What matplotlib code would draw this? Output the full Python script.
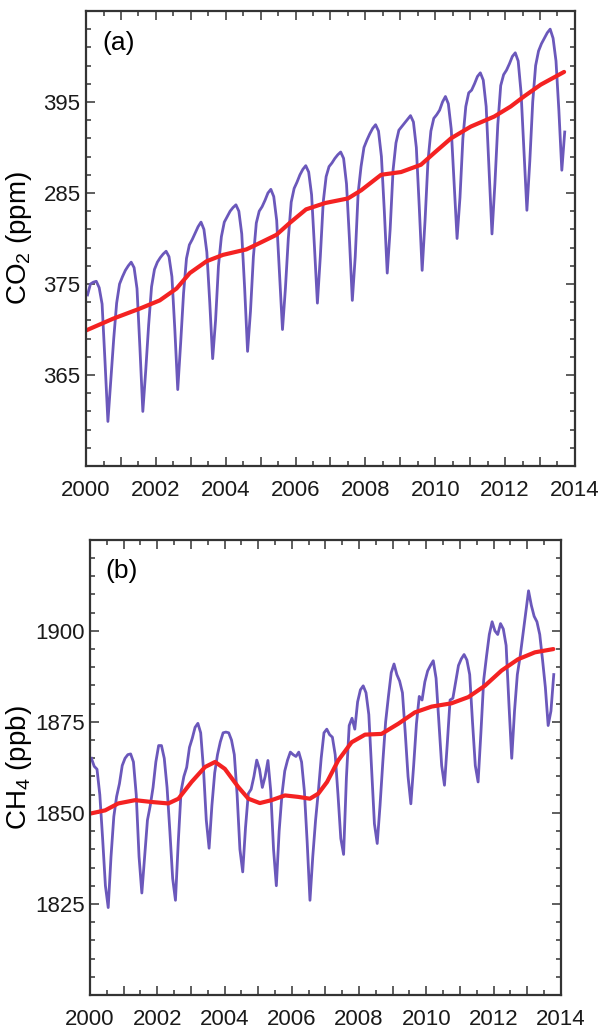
import numpy as np
import matplotlib
matplotlib.use("Agg")
import matplotlib.pyplot as plt
from matplotlib.ticker import MultipleLocator, FixedLocator, FuncFormatter

plt.rcParams['font.family'] = ['Liberation Sans', 'DejaVu Sans']
plt.rcParams['mathtext.default'] = 'regular'

# ---------- CO2 monthly values (ppm), Jan 2000 .. Sep 2013 ----------
co2_monthly = [
    373.8, 375.0, 375.2, 375.3, 374.6, 372.8, 366.5, 359.9, 364.5, 369.0, 372.9, 375.0,
    375.8, 376.5, 377.0, 377.4, 376.8, 374.5, 368.0, 361.0, 365.5, 370.5, 374.7, 376.6,
    377.4, 377.9, 378.3, 378.6, 378.0, 375.8, 370.0, 363.4, 368.5, 374.0, 377.8, 379.3,
    379.9, 380.6, 381.3, 381.8, 381.0, 378.5, 373.0, 366.8, 371.0, 377.0, 380.2, 381.8,
    382.4, 383.0, 383.4, 383.7, 383.0, 380.5, 374.5, 367.6, 372.0, 378.0, 381.7, 383.0,
    383.5, 384.2, 385.0, 385.4, 384.6, 382.0, 376.0, 370.0, 374.5, 380.0, 384.0, 385.5,
    386.2, 387.0, 387.6, 388.0, 387.3, 384.8, 379.0, 372.9, 378.0, 384.0, 386.8, 387.9,
    388.3, 388.8, 389.2, 389.5, 388.8, 386.0, 380.0, 373.2, 378.0, 385.0, 387.9, 390.0,
    390.8, 391.5, 392.1, 392.5, 391.8, 389.0, 383.0, 376.2, 381.0, 387.5, 390.5, 391.9,
    392.3, 392.7, 393.1, 393.5, 392.8, 390.0, 383.5, 376.5, 382.0, 388.5, 391.8, 393.2,
    393.6, 394.1, 395.0, 395.6, 394.8, 392.0, 386.0, 380.0, 384.5, 391.0, 394.5, 396.0,
    396.3, 397.0, 397.8, 398.2, 397.4, 394.5, 387.5, 380.5, 386.0, 392.5, 396.8, 398.0,
    398.5, 399.2, 400.0, 400.4, 399.5, 396.0, 389.5, 383.1, 388.5, 395.0, 399.0, 400.6,
    401.4, 402.0, 402.6, 403.0, 402.0, 399.5, 394.0, 387.5, 391.7,
]

# CO2 smoothed trend
co2_trend_year = [2000.0, 2000.78, 2001.54, 2002.11, 2002.59, 2002.97, 2003.45, 2003.92,
                  2004.59, 2004.97, 2005.45, 2005.83, 2006.3, 2006.85, 2007.5, 2007.88,
                  2008.45, 2009.02, 2009.59, 2009.97, 2010.45, 2011.02, 2011.69, 2012.16,
                  2012.54, 2013.02, 2013.69]
co2_trend = [369.9, 371.2, 372.3, 373.2, 374.5, 376.2, 377.5, 378.2,
             378.8, 379.5, 380.4, 381.7, 383.2, 383.9, 384.4, 385.3,
             387.0, 387.3, 388.1, 389.4, 391.0, 392.3, 393.4, 394.5,
             395.6, 396.9, 398.3]

# ---------- CH4 monthly values (ppb), Jan 2000 .. Oct 2013 ----------
ch4_monthly = [
    1865.0, 1862.8, 1862.0, 1855.0, 1843.0, 1830.0, 1824.0, 1838.0, 1849.0, 1854.5, 1858.0, 1863.0,
    1865.0, 1866.0, 1866.2, 1864.0, 1855.0, 1838.0, 1828.0, 1838.0, 1848.0, 1852.0, 1857.0, 1864.0,
    1868.5, 1868.5, 1865.0, 1857.0, 1845.0, 1832.0, 1826.0, 1842.0, 1856.0, 1860.0, 1862.5, 1868.0,
    1870.5, 1873.5, 1874.6, 1872.0, 1862.0, 1848.0, 1840.3, 1852.0, 1861.0, 1866.0, 1869.5, 1872.0,
    1872.2, 1872.0, 1870.0, 1866.0, 1855.0, 1840.0, 1833.8, 1846.0, 1855.3, 1856.5, 1860.0, 1864.5,
    1862.0, 1857.0, 1860.0, 1864.4, 1856.0, 1840.0, 1830.0, 1845.0, 1855.0, 1861.5, 1864.5, 1866.7,
    1866.0, 1865.5, 1866.7, 1864.0, 1856.0, 1842.0, 1826.0, 1838.0, 1848.0, 1856.0, 1865.0, 1872.0,
    1873.0, 1871.5, 1870.8, 1866.0, 1855.0, 1843.0, 1838.6, 1859.6, 1874.0, 1876.0, 1873.0, 1880.5,
    1883.8, 1884.9, 1883.0, 1877.0, 1862.0, 1847.0, 1841.6, 1852.0, 1864.0, 1875.0, 1882.0, 1888.5,
    1890.9, 1888.0, 1886.2, 1883.0, 1872.0, 1860.0, 1852.5, 1863.0, 1874.5, 1882.0, 1881.0, 1886.0,
    1889.0, 1890.5, 1891.8, 1887.0, 1875.0, 1863.0, 1857.6, 1869.0, 1881.0, 1881.5, 1886.0, 1890.5,
    1892.3, 1893.5, 1892.0, 1888.0, 1875.0, 1863.0, 1858.5, 1872.0, 1886.5, 1893.0, 1899.0, 1902.5,
    1900.0, 1899.0, 1902.0, 1900.5, 1896.0, 1880.0, 1865.0, 1878.0, 1888.0, 1893.0, 1899.0, 1905.0,
    1911.0, 1907.0, 1904.0, 1902.5, 1899.0, 1892.0, 1884.5, 1874.0, 1878.0, 1888.0,
]

# CH4 smoothed trend
ch4_trend_year = [2000.0, 2000.45, 2000.84, 2001.34, 2001.83, 2002.33, 2002.63, 2003.02,
                  2003.42, 2003.72, 2004.01, 2004.41, 2004.71, 2005.05, 2005.4, 2005.8,
                  2006.19, 2006.54, 2006.79, 2007.05, 2007.38, 2007.78, 2008.18, 2008.67,
                  2009.17, 2009.66, 2010.16, 2010.75, 2011.25, 2011.74, 2012.24, 2012.73,
                  2013.23, 2013.78]
ch4_trend = [1849.8, 1850.7, 1852.6, 1853.5, 1853.0, 1852.6, 1853.9, 1858.5,
             1862.6, 1864.0, 1862.1, 1857.1, 1853.9, 1852.7, 1853.5, 1854.8,
             1854.4, 1853.9, 1855.3, 1858.5, 1864.4, 1869.4, 1871.5, 1871.7,
             1874.5, 1877.6, 1879.2, 1880.1, 1881.8, 1884.9, 1889.1, 1892.2,
             1894.1, 1895.0]

co2_ticks = [365, 375, 385, 395]
co2_ticklabels = ['365', '375', '285', '395']
ch4_ticks = [1825, 1850, 1875, 1900]
ch4_ticklabels = ['1825', '1850', '1875', '1900']

purple = '#6b58bb'
red = '#f42222'
spine_col = '#333333'

fig = plt.figure(figsize=(6.02, 10.32), dpi=100)
ax1 = fig.add_axes([0.143, 0.5484, 0.812, 0.441])
ax2 = fig.add_axes([0.1495, 0.0359, 0.782, 0.441])

co2_t = 2000 + (np.arange(len(co2_monthly)) + 0.5) / 12
ch4_t = 2000 + (np.arange(len(ch4_monthly)) + 0.5) / 12

ax1.plot(co2_t, co2_monthly, color=purple, lw=2.0, solid_joinstyle='round')
ax1.plot(co2_trend_year, co2_trend, color=red, lw=3.0, solid_capstyle='round',
         solid_joinstyle='round')
ax2.plot(ch4_t, ch4_monthly, color=purple, lw=2.0, solid_joinstyle='round')
ax2.plot(ch4_trend_year, ch4_trend, color=red, lw=3.0, solid_capstyle='round',
         solid_joinstyle='round')

def even_years(v, pos):
    return '%d' % round(v) if round(v) % 2 == 0 else ''

for ax in (ax1, ax2):
    ax.set_xlim(2000, 2014)
    ax.xaxis.set_major_locator(MultipleLocator(1))
    ax.xaxis.set_minor_locator(MultipleLocator(0.5))
    ax.xaxis.set_major_formatter(FuncFormatter(even_years))
    ax.tick_params(which='both', direction='in', top=True, right=True,
                   color=spine_col, labelsize=16, labelcolor='#1a1a1a')
    ax.tick_params(which='major', length=6.5, width=1.1)
    ax.tick_params(which='minor', length=3.6, width=1.1)
    ax.tick_params(axis='x', pad=10)
    ax.tick_params(axis='y', pad=4)
    for s in ax.spines.values():
        s.set_color(spine_col)
        s.set_linewidth(1.6)

ax1.set_ylim(355, 405)
ax1.yaxis.set_major_locator(FixedLocator(co2_ticks))
ax1.set_yticklabels(co2_ticklabels)
ax1.yaxis.set_minor_locator(FixedLocator(np.arange(355, 406, 2)))
ax1.set_ylabel('CO$_2$ (ppm)', fontsize=20)
ax1.yaxis.set_label_coords(-0.106, 0.5)
ax1.text(0.033, 0.957, '(a)', transform=ax1.transAxes, fontsize=19,
         ha='left', va='top')

ax2.set_ylim(1800, 1925)
ax2.yaxis.set_major_locator(FixedLocator(ch4_ticks))
ax2.set_yticklabels(ch4_ticklabels)
ax2.yaxis.set_minor_locator(MultipleLocator(5))
ax2.set_ylabel('CH$_4$ (ppb)', fontsize=20)
ax2.yaxis.set_label_coords(-0.119, 0.5)
ax2.text(0.032, 0.957, '(b)', transform=ax2.transAxes, fontsize=19,
         ha='left', va='top')

fig.savefig('out.png', dpi=100)
